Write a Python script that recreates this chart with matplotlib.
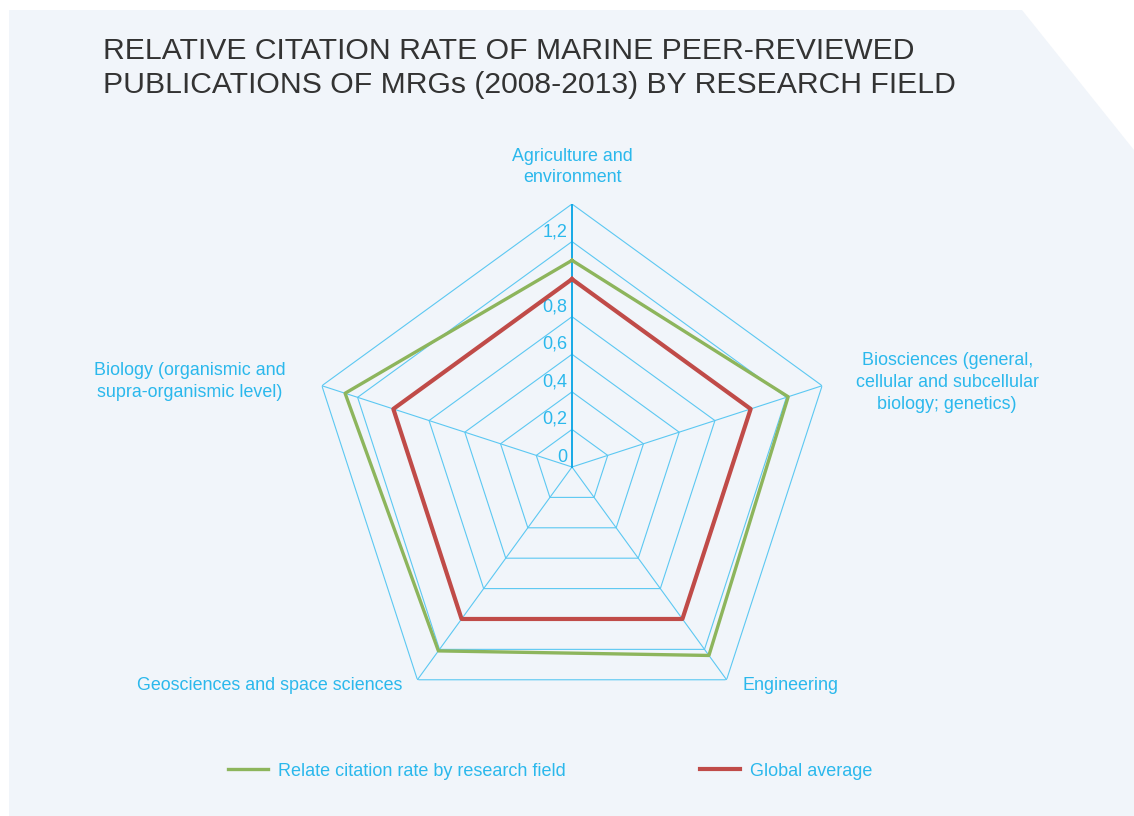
import numpy as np
import matplotlib.pyplot as plt
from matplotlib.patches import Polygon

plt.rcParams['font.family'] = ['Liberation Sans', 'DejaVu Sans']

categories = ['Agriculture and\nenvironment',
              'Biosciences (general,\ncellular and subcellular\nbiology; genetics)',
              'Engineering',
              'Geosciences and space sciences',
              'Biology (organismic and\nsupra-organismic level)']
field_rate = [1.10, 1.21, 1.24, 1.21, 1.27]
global_avg = [1.0, 1.0, 1.0, 1.0, 1.0]
rings = [0.2, 0.4, 0.6, 0.8, 1.0, 1.2, 1.4]
tick_vals = [0, 0.2, 0.4, 0.6, 0.8, 1.2]
tick_labels = ['0', '0,2', '0,4', '0,6', '0,8', '1,2']

blue = '#2bb8ec'
grid_c = '#5cc8f2'
green = '#8db55c'
red = '#c04b48'

W, H = 1134, 816
fig = plt.figure(figsize=(W / 100, H / 100), dpi=100)
fig.patch.set_facecolor('white')

# light panel with the cut top-right corner
panel = Polygon([(9 / W, 0), (9 / W, 1 - 10 / H), (1022 / W, 1 - 10 / H),
                 (1, 1 - 150 / H), (1, 0)], closed=True,
                transform=fig.transFigure, facecolor='#f1f5fa', edgecolor='none', zorder=-5)
fig.patches.append(panel)

fig.text(103 / W, 1 - 37 / H, 'RELATIVE CITATION RATE OF MARINE PEER-REVIEWED\n'
         'PUBLICATIONS OF MRGs (2008-2013) BY RESEARCH FIELD',
         fontsize=21.7, color='#333333', va='top', ha='left', linespacing=1.27)

cx, cy, R = 572, 467, 263
ax = fig.add_axes([(cx - R) / W, (H - cy - R) / H, 2 * R / W, 2 * R / H], projection='polar')
ax.set_facecolor('none')
ax.set_zorder(2)
ax.set_theta_offset(np.pi / 2)
ax.set_theta_direction(-1)
ax.set_ylim(0, 1.4)
ax.grid(False)
ax.spines['polar'].set_visible(False)
ax.set_xticks([])
ax.set_yticks([])

n = len(categories)
angles = np.linspace(0, 2 * np.pi, n, endpoint=False)
closed = np.concatenate([angles, angles[:1]])

for r in rings:
    ax.plot(closed, [r] * (n + 1), color=grid_c, lw=0.8, zorder=1)
for i, a in enumerate(angles):
    if i == 0:
        ax.plot([a, a], [0, 1.4], color='#16a9e6', lw=1.4, zorder=2)
    else:
        ax.plot([a, a], [0, 1.4], color=grid_c, lw=0.8, zorder=1)

ax.plot(closed, field_rate + field_rate[:1], color=green, lw=2.4, zorder=3,
        label='Relate citation rate by research field')
ax.plot(closed, global_avg + global_avg[:1], color=red, lw=3.0, zorder=4,
        label='Global average')

for v, t in zip(tick_vals, tick_labels):
    ax.annotate(t, xy=(0, v), xytext=(-5, 10), textcoords='offset pixels',
                ha='right', va='center', fontsize=13, color=blue, annotation_clip=False)

offsets = [((0, 37), 'center'), ((125, 3), 'center'), ((16, -6), 'left'),
           ((-15, -6), 'right'), ((-132, 4), 'center')]
for a, lab, (off, ha) in zip(angles, categories, offsets):
    ax.annotate(lab, xy=(a, 1.4), xytext=off, textcoords='offset pixels',
                ha=ha, va='center', fontsize=12.9, color=blue,
                multialignment='center', linespacing=1.38, annotation_clip=False)

handles, labels = ax.get_legend_handles_labels()
leg = fig.legend(handles, labels, loc='center left', bbox_to_anchor=(228 / W, 1 - 771 / H),
                 ncol=2, frameon=False, fontsize=13, handlelength=2.2,
                 handletextpad=0.55, columnspacing=7.45, borderpad=0, borderaxespad=0)
for txt in leg.get_texts():
    txt.set_color(blue)

fig.savefig('out.png', dpi=100)
